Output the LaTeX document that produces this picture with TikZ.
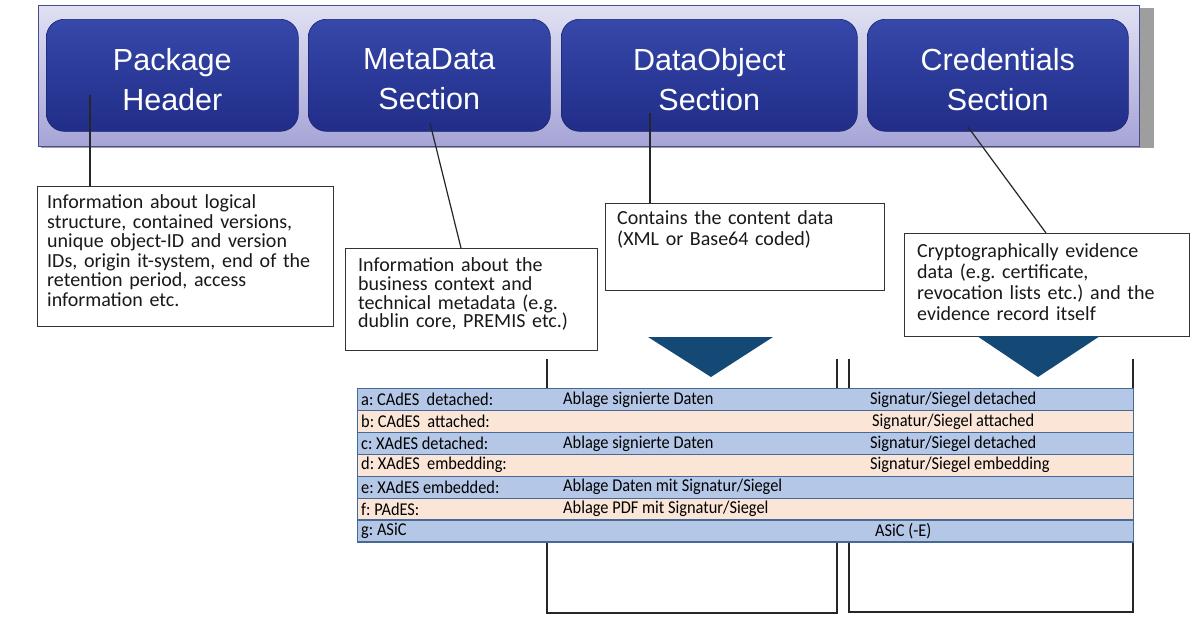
\documentclass[tikz,border=0pt]{standalone}
\usepackage{fontspec}
\setmainfont{Carlito}
\newfontfamily\arialf{Liberation Sans}
\newfontfamily\tablefont[FakeStretch=0.91]{Carlito}
\usetikzlibrary{calc}
\definecolor{barTop}{RGB}{224,224,243}
\definecolor{barBot}{RGB}{166,164,214}
\definecolor{barEdge}{RGB}{70,76,140}
\definecolor{boxTop}{RGB}{54,72,170}
\definecolor{boxBot}{RGB}{33,45,136}
\definecolor{triCol}{RGB}{21,73,117}
\definecolor{rowBlue}{RGB}{180,199,231}
\definecolor{rowPeach}{RGB}{251,229,214}
\definecolor{rowLine}{RGB}{70,105,150}
\frenchspacing
\begin{document}
\begin{tikzpicture}[x=1pt,y=-1pt,
  barbox/.style={draw=barEdge, line width=1pt, top color=barTop, bottom color=barBot, anchor=north west, inner sep=0},
  topbox/.style={rounded corners=18pt, top color=boxTop, bottom color=boxBot, draw=boxBot!80!black, line width=0.6pt, anchor=north west, inner sep=0, minimum height=112pt},
  toptext/.style={text=white, font=\arialf\fontsize{30.5}{40}\selectfont, align=center, inner sep=0},
  infobox/.style={draw=black!80, line width=1.3pt, anchor=north west, inner sep=0, fill=white},
  infotext/.style={anchor=north west, inner sep=0, align=left, text width=290pt, text=black!90},
  conn/.style={draw=black!85, line width=1.2pt},
  framebox/.style={draw=black!85, line width=1.2pt},
  tablerow/.style={draw=rowLine, line width=1.2pt, anchor=north west, inner sep=0, minimum width=776pt, minimum height=21.9pt},
  cell/.style={anchor=west, inner sep=0, font=\tablefont\fontsize{18}{18}\selectfont, text=black}
]
\fill[white] (0,0) rectangle (1191,619);
\useasboundingbox (0,0) rectangle (1191,619);

% header bar with shadow
\fill[black!38] (41,8) rectangle (1154,148);
\node[barbox, minimum width=1101pt, minimum height=141pt] (bar) at (38,5) {};

% section boxes
\node[topbox, minimum width=252pt] (ph) at (46,19) {};
\node[topbox, minimum width=242pt] (md) at (308,19) {};
\node[topbox, minimum width=296pt] (dob) at (561,19) {};
\node[topbox, minimum width=261pt] (cr) at (867,19) {};
\node[toptext] at ($(ph.center)+(0,4)$) {Package\\Header};
\node[toptext] at ($(md.center)+(0,4)$) {MetaData\\Section};
\node[toptext] at ($(dob.center)+(0,4)$) {DataObject\\Section};
\node[toptext] at ($(cr.center)+(0,4)$) {Credentials\\Section};

% info boxes
\node[infobox, minimum width=296pt, minimum height=140pt] (t1) at (37,186) {};
\node[infobox, minimum width=252pt, minimum height=102pt] (t2) at (345,248) {};
\node[infobox, minimum width=279pt, minimum height=87pt] (t3) at (605,203) {};
\node[infobox, minimum width=285pt, minimum height=103pt] (t4) at (904,233) {};
\node[infotext, font=\fontsize{20}{19.6}\selectfont] at ($(t1.north west)+(10,8.5)$) {Information about logical\\structure, contained versions,\\unique object-ID and version\\IDs, origin it-system, end of the\\retention period, access\\information etc.};
\node[infotext, font=\fontsize{20}{18.8}\selectfont] at ($(t2.north west)+(13,9.5)$) {Information about the\\business context and\\technical metadata (e.g.\\dublin core, PREMIS etc.)};
\node[infotext, font=\fontsize{20}{21}\selectfont] at ($(t3.north west)+(12,7.5)$) {Contains the content data\\(XML or Base64 coded)};
\node[infotext, font=\fontsize{20}{21}\selectfont] at ($(t4.north west)+(13,10.5)$) {Cryptographically evidence\\data (e.g. certificate,\\revocation lists etc.) and the\\evidence record itself};

% connectors
\coordinate (phs) at (90,95);
\coordinate (mds) at (430,123);
\coordinate (dos) at (650,113);
\coordinate (crs) at (968,127);
\draw[conn] (phs) -- (phs |- t1.north);
\draw[conn] (mds) -- ($(t2.north west)+(116,0)$);
\draw[conn] (dos) -- (dos |- t3.north);
\draw[conn] (crs) -- ($(t4.north west)+(142,0)$);

% open frames
\draw[framebox] (547,359) -- (547,613) -- (837,613) -- (837,359);
\draw[framebox] (849,359) -- (849,612) -- (1133,612) -- (1133,359);

% triangles
\fill[triCol] (648,337) -- (773,337) -- (711,377) -- cycle;
\fill[triCol] (977,336) -- (1100,336) -- (1038,377) -- cycle;

% table
\foreach \n/\c [count=\k from 0] in {a/rowBlue,b/rowPeach,c/rowBlue,d/rowPeach,e/rowBlue,f/rowPeach,g/rowBlue}
  \node[tablerow, fill=\c] (row\n) at (357,{388+\k*21.9}) {};

\node[cell] at ($(rowa.west)+(4,0)$) {a: CAdES~ detached:};
\node[cell] at ($(rowa.west)+(206,0)$) {Ablage signierte Daten};
\node[cell] at ($(rowa.west)+(513,0)$) {Signatur/Siegel detached};
\node[cell] at ($(rowb.west)+(4,0)$) {b: CAdES~ attached:};
\node[cell] at ($(rowb.west)+(515,0)$) {Signatur/Siegel attached};
\node[cell] at ($(rowc.west)+(4,0)$) {c: XAdES detached:};
\node[cell] at ($(rowc.west)+(206,0)$) {Ablage signierte Daten};
\node[cell] at ($(rowc.west)+(513,0)$) {Signatur/Siegel detached};
\node[cell] at ($(rowd.west)+(4,0)$) {d: XAdES~ embedding:};
\node[cell] at ($(rowd.west)+(513,0)$) {Signatur/Siegel embedding};
\node[cell] at ($(rowe.west)+(4,0)$) {e: XAdES embedded:};
\node[cell] at ($(rowe.west)+(206,0)$) {Ablage Daten mit Signatur/Siegel};
\node[cell] at ($(rowf.west)+(4,0)$) {f: PAdES:};
\node[cell] at ($(rowf.west)+(206,0)$) {Ablage PDF mit Signatur/Siegel};
\node[cell] at ($(rowg.west)+(4,0)$) {g: ASiC};
\node[cell] at ($(rowg.west)+(518,0)$) {ASiC (-E)};
\end{tikzpicture}
\end{document}
